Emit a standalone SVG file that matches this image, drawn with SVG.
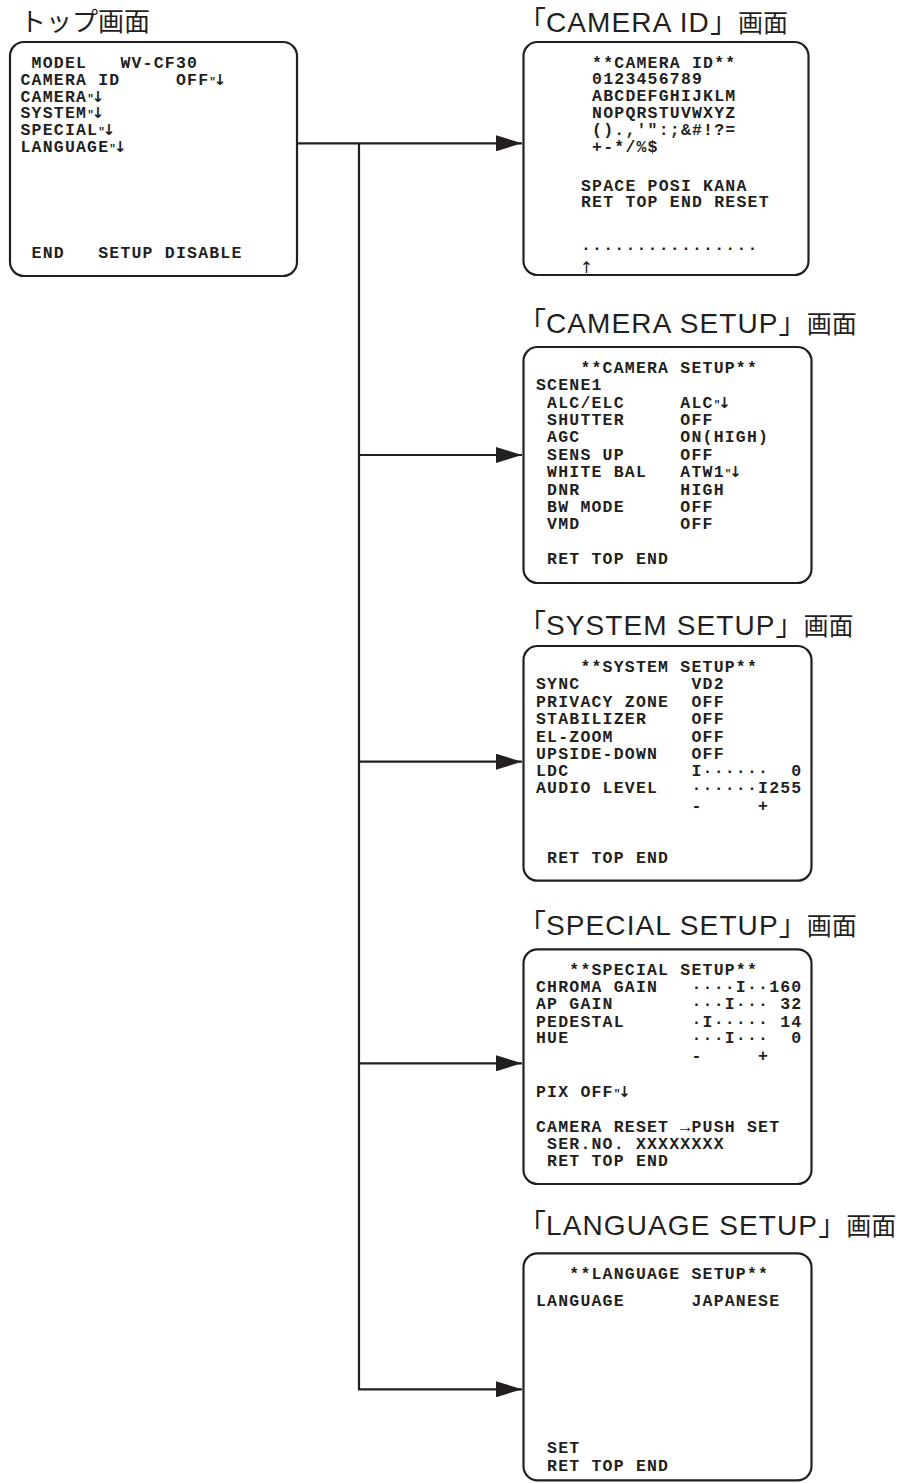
<svg xmlns="http://www.w3.org/2000/svg" width="899" height="1483" viewBox="0 0 899 1483">
<defs>
<style>
.box{fill:#fff;stroke:#231f20;stroke-width:2.2}
.m{font-family:"Liberation Mono","DejaVu Sans Mono",monospace;font-weight:bold;font-size:16.5px;letter-spacing:1.2px;fill:#231f20;white-space:pre}
.t{font-family:"Liberation Sans","Noto Sans CJK JP",sans-serif;font-size:28px;fill:#231f20}
.l{letter-spacing:1.1px}
.j{font-family:"Noto Sans CJK JP",sans-serif;font-size:25px}
.q{font-size:11px;letter-spacing:0}
.a{font-family:"DejaVu Sans",sans-serif;font-size:15px;letter-spacing:0}
.line{fill:none;stroke:#231f20;stroke-width:2.2}
</style>
<marker id="ah" markerUnits="userSpaceOnUse" markerWidth="26" markerHeight="16" viewBox="0 0 26 16" refX="26" refY="8" orient="auto">
<path d="M0,0 L26,8 L0,16 Z" fill="#231f20"/>
</marker>
</defs>
<rect width="899" height="1483" fill="#fff"/>

<g id="connectors">
<path class="line" d="M297 143.3 H522" marker-end="url(#ah)"/>
<path class="line" d="M359 143.3 V1389.3 H522" marker-end="url(#ah)"/>
<path class="line" d="M359 455 H522" marker-end="url(#ah)"/>
<path class="line" d="M359 761.7 H522" marker-end="url(#ah)"/>
<path class="line" d="M359 1063.3 H522" marker-end="url(#ah)"/>
</g>

<g id="top" xml:space="preserve">
<text x="20" y="31" style="font-family:'Noto Sans CJK JP',sans-serif;font-size:26px;fill:#231f20">トップ画面</text>
<rect class="box" x="10" y="42" width="287" height="234" rx="14"/>
<text class="m" x="20.5" y="68.3"> MODEL   WV-CF30</text>
<text class="m" x="20.5" y="85">CAMERA ID     OFF<tspan class="q">"</tspan><tspan class="a" dx="-2">↓</tspan></text>
<text class="m" x="20.5" y="101.7">CAMERA<tspan class="q">"</tspan><tspan class="a" dx="-2">↓</tspan></text>
<text class="m" x="20.5" y="118.3">SYSTEM<tspan class="q">"</tspan><tspan class="a" dx="-2">↓</tspan></text>
<text class="m" x="20.5" y="135">SPECIAL<tspan class="q">"</tspan><tspan class="a" dx="-2">↓</tspan></text>
<text class="m" x="20.5" y="151.7">LANGUAGE<tspan class="q">"</tspan><tspan class="a" dx="-2">↓</tspan></text>
<text class="m" x="20.5" y="258.3"> END   SETUP DISABLE</text>
</g>

<g id="camera-id" xml:space="preserve">
<text class="t" x="518" y="31.7">「<tspan class="l">CAMERA ID</tspan>」<tspan class="j">画面</tspan></text>
<rect class="box" x="523.5" y="42" width="285" height="233" rx="14"/>
<text class="m" x="581" y="67.5"> **CAMERA ID**</text>
<text class="m" x="581" y="84.3"> 0123456789</text>
<text class="m" x="581" y="101.1"> ABCDEFGHIJKLM</text>
<text class="m" x="581" y="117.9"> NOPQRSTUVWXYZ</text>
<text class="m" x="581" y="134.7"> ().,'":;&amp;#!?=</text>
<text class="m" x="581" y="151.5"> +-*/%$</text>
<text class="m" x="581" y="190.5">SPACE POSI KANA</text>
<text class="m" x="581" y="207">RET TOP END RESET</text>
<text class="m" x="581" y="250">................</text>
<text x="586.5" y="273" text-anchor="middle" style="font-family:'DejaVu Sans',sans-serif;font-size:16px;fill:#231f20">↑</text>
</g>

<g id="camera-setup" xml:space="preserve">
<text class="t" x="518" y="333.3">「<tspan class="l">CAMERA SETUP</tspan>」<tspan class="j">画面</tspan></text>
<rect class="box" x="523.5" y="347" width="288" height="236" rx="14"/>
<text class="m" x="536" y="372.7">    **CAMERA SETUP**</text>
<text class="m" x="536" y="390.1">SCENE1</text>
<text class="m" x="536" y="407.5"> ALC/ELC     ALC<tspan class="q">"</tspan><tspan class="a" dx="-2">↓</tspan></text>
<text class="m" x="536" y="424.9"> SHUTTER     OFF</text>
<text class="m" x="536" y="442.3"> AGC         ON(HIGH)</text>
<text class="m" x="536" y="459.7"> SENS UP     OFF</text>
<text class="m" x="536" y="477.1"> WHITE BAL   ATW1<tspan class="q">"</tspan><tspan class="a" dx="-2">↓</tspan></text>
<text class="m" x="536" y="494.5"> DNR         HIGH</text>
<text class="m" x="536" y="511.9"> BW MODE     OFF</text>
<text class="m" x="536" y="529.3"> VMD         OFF</text>
<text class="m" x="536" y="564"> RET TOP END</text>
</g>

<g id="system-setup" xml:space="preserve">
<text class="t" x="518" y="635">「<tspan class="l">SYSTEM SETUP</tspan>」<tspan class="j">画面</tspan></text>
<rect class="box" x="523.5" y="646" width="288" height="234.7" rx="14"/>
<text class="m" x="536" y="671.7">    **SYSTEM SETUP**</text>
<text class="m" x="536" y="689.3">SYNC          VD2</text>
<text class="m" x="536" y="706.7">PRIVACY ZONE  OFF</text>
<text class="m" x="536" y="724">STABILIZER    OFF</text>
<text class="m" x="536" y="741.7">EL-ZOOM       OFF</text>
<text class="m" x="536" y="759">UPSIDE-DOWN   OFF</text>
<text class="m" x="536" y="776">LDC           I······  0</text>
<text class="m" x="536" y="793.3">AUDIO LEVEL   ······I255</text>
<text class="m" x="536" y="810.5">              -     +</text>
<text class="m" x="536" y="863.3"> RET TOP END</text>
</g>

<g id="special-setup" xml:space="preserve">
<text class="t" x="518" y="935">「<tspan class="l">SPECIAL SETUP</tspan>」<tspan class="j">画面</tspan></text>
<rect class="box" x="523.5" y="949.3" width="288" height="234.7" rx="14"/>
<text class="m" x="536" y="975">   **SPECIAL SETUP**</text>
<text class="m" x="536" y="991.7">CHROMA GAIN   ····I··160</text>
<text class="m" x="536" y="1009.3">AP GAIN       ···I··· 32</text>
<text class="m" x="536" y="1026.7">PEDESTAL      ·I····· 14</text>
<text class="m" x="536" y="1043.3">HUE           ···I···  0</text>
<text class="m" x="536" y="1061">              -     +</text>
<text class="m" x="536" y="1096.7">PIX OFF<tspan class="q">"</tspan><tspan class="a" dx="-2">↓</tspan></text>
<text class="m" x="536" y="1131.7">CAMERA RESET →PUSH SET</text>
<text class="m" x="536" y="1149.3"> SER.NO. XXXXXXXX</text>
<text class="m" x="536" y="1166"> RET TOP END</text>
</g>

<g id="language-setup" xml:space="preserve">
<text class="t" x="518" y="1235">「<tspan class="l">LANGUAGE SETUP</tspan>」<tspan class="j">画面</tspan></text>
<rect class="box" x="523.5" y="1253.3" width="288" height="227" rx="14"/>
<text class="m" x="536" y="1279.3">   **LANGUAGE SETUP**</text>
<text class="m" x="536" y="1306">LANGUAGE      JAPANESE</text>
<text class="m" x="536" y="1453.3"> SET</text>
<text class="m" x="536" y="1470.7"> RET TOP END</text>
</g>
</svg>
